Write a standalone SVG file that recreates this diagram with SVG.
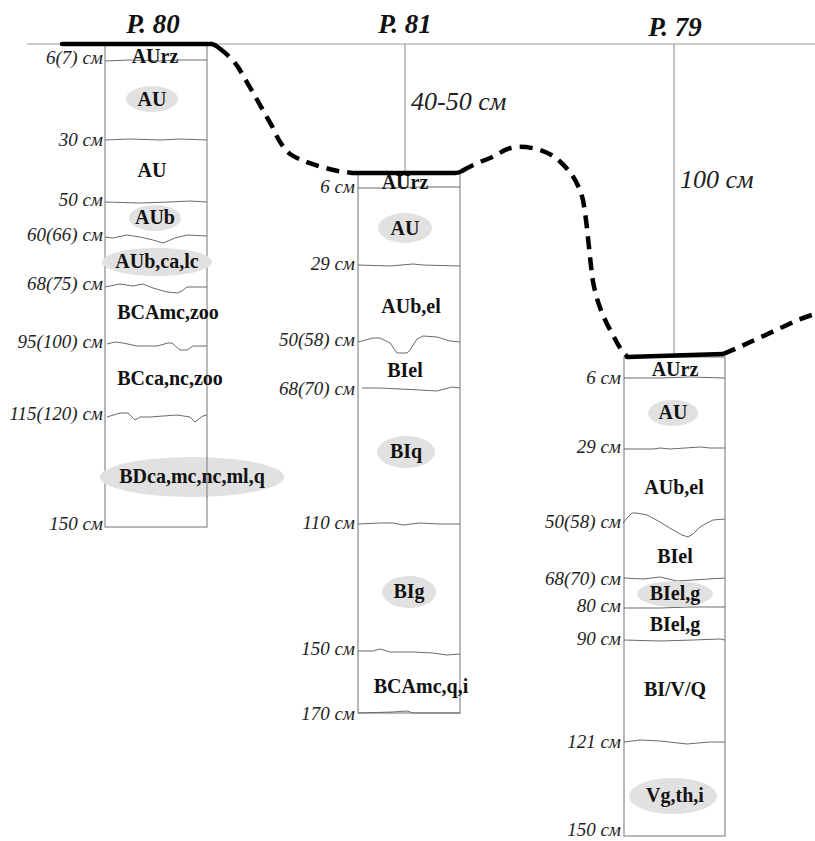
<svg xmlns="http://www.w3.org/2000/svg" width="815" height="841" viewBox="0 0 815 841">
<style>
.bg{fill:#ffffff}
.axis{stroke:#9a9a9a;stroke-width:1.2;fill:none}
.col{stroke:#8a8a8a;stroke-width:1.2;fill:none}
.bd{stroke:#6a6a6a;stroke-width:1;fill:none;stroke-linejoin:round}
.ell{fill:#e1e1e1;stroke:none}
.hz{font-family:"Liberation Serif","Times New Roman",serif;font-weight:bold;font-size:20px;fill:#111;text-anchor:middle}
.dp{font-family:"Liberation Serif","Times New Roman",serif;font-style:italic;font-size:19px;fill:#222;text-anchor:end}
.big{font-family:"Liberation Serif","Times New Roman",serif;font-style:italic;font-size:26px;fill:#222}
.ttl{font-family:"Liberation Serif","Times New Roman",serif;font-style:italic;font-weight:bold;font-size:27px;fill:#111;text-anchor:middle}
.solid{stroke:#000;stroke-width:4.5;fill:none;stroke-linecap:round;stroke-linejoin:round}
.dash{stroke:#000;stroke-width:4.5;fill:none;stroke-dasharray:13 8;stroke-linejoin:round}
</style>
<rect class="bg" x="0" y="0" width="815" height="841"/>

<g id="axes">
<line class="axis" x1="27" y1="44" x2="815" y2="44"/>
<line class="axis" x1="405" y1="44" x2="405" y2="173"/>
<line class="axis" x1="674" y1="44" x2="674" y2="356"/>
</g>

<g id="titles">
<text class="ttl" x="153" y="33">P. 80</text>
<text class="ttl" x="405" y="33">P. 81</text>
<text class="ttl" x="675" y="36">P. 79</text>
<text class="big" x="411" y="110">40-50 см</text>
<text class="big" x="680" y="188">100 см</text>
</g>

<g id="p80">
<rect class="col" x="105" y="44" width="102" height="483"/>
<polyline class="bd" points="105,61 130,60 160,61 180,60 207,60"/>
<polyline class="bd" points="105,140 130,139 160,140 180,139 207,140"/>
<polyline class="bd" points="105,202 140,203 170,202 190,201 207,202"/>
<polyline class="bd" points="105,237 113,238 127,235 140,237 153,240 163,243 175,238 187,235 207,236"/>
<polyline class="bd" points="105,287 120,284 133,286 143,284 153,288 167,292 177,293 182,291 187,287 197,287 207,287"/>
<polyline class="bd" points="107,344 115,342 123,343 137,346 157,346 168,343 172,343 180,350 187,350 193,346 207,346"/>
<polyline class="bd" points="107,417 120,413 128,413 135,420 140,417 150,417 177,415 190,417 195,422 200,418 203,416 207,415"/>
<ellipse class="ell" cx="152" cy="99" rx="26" ry="13"/>
<ellipse class="ell" cx="155" cy="218" rx="26" ry="13"/>
<ellipse class="ell" cx="157" cy="262" rx="55" ry="14"/>
<ellipse class="ell" cx="192" cy="477" rx="92" ry="20"/>
<line class="col" x1="207" y1="457" x2="207" y2="498"/>
<text class="hz" x="155" y="63">AUrz</text>
<text class="hz" x="152" y="106">AU</text>
<text class="hz" x="152" y="177">AU</text>
<text class="hz" x="155" y="224">AUb</text>
<text class="hz" x="157" y="268">AUb,ca,lc</text>
<text class="hz" x="168" y="319">BCAmc,zoo</text>
<text class="hz" x="170" y="385">BCca,nc,zoo</text>
<text class="hz" x="192" y="483">BDca,mc,nc,ml,q</text>
<text class="dp" x="103" y="64">6(7) см</text>
<text class="dp" x="103" y="146">30 см</text>
<text class="dp" x="103" y="206">50 см</text>
<text class="dp" x="103" y="241">60(66) см</text>
<text class="dp" x="103" y="290">68(75) см</text>
<text class="dp" x="103" y="348">95(100) см</text>
<text class="dp" x="103" y="420">115(120) см</text>
<text class="dp" x="103" y="530">150 см</text>
</g>

<g id="p81">
<rect class="col" x="358" y="173" width="102" height="540"/>
<polyline class="bd" points="358,188 390,188 420,187 440,187 460,187"/>
<polyline class="bd" points="358,265 390,266 413,264 423,265 460,266"/>
<polyline class="bd" points="358,342 373,338 380,338 390,343 397,353 407,353 410,350 417,339 423,336 437,337 450,341 460,342"/>
<polyline class="bd" points="362,388 380,388 400,389 420,390 437,391 452,387 460,388"/>
<polyline class="bd" points="358,524 380,523 393,523 403,525 420,523 440,524 460,524"/>
<polyline class="bd" points="358,651 373,651 380,649 390,652 413,652 433,653 447,655 460,654"/>
<polyline class="bd" points="358,713 393,712 407,711 413,713 460,713"/>
<ellipse class="ell" cx="405" cy="228" rx="27" ry="15"/>
<ellipse class="ell" cx="406" cy="452" rx="29" ry="16"/>
<ellipse class="ell" cx="409" cy="592" rx="27" ry="16"/>
<text class="hz" x="405" y="189">AUrz</text>
<text class="hz" x="405" y="235">AU</text>
<text class="hz" x="411" y="313">AUb,el</text>
<text class="hz" x="405" y="377">BIel</text>
<text class="hz" x="406" y="458">BIq</text>
<text class="hz" x="409" y="598">BIg</text>
<text class="hz" x="421" y="693">BCAmc,q,i</text>
<text class="dp" x="355" y="193">6 см</text>
<text class="dp" x="355" y="270">29 см</text>
<text class="dp" x="355" y="346">50(58) см</text>
<text class="dp" x="355" y="395">68(70) см</text>
<text class="dp" x="355" y="529">110 см</text>
<text class="dp" x="355" y="655">150 см</text>
<text class="dp" x="355" y="720">170 см</text>
</g>

<g id="p79">
<rect class="col" x="624" y="357" width="101" height="479"/>
<polyline class="bd" points="624,378 660,378 690,377 725,378"/>
<polyline class="bd" points="624,449 653,449 660,448 670,449 700,447 710,448 725,448"/>
<polyline class="bd" points="623,523 627,518 632,513 637,513 647,515 660,522 673,530 682,535 688,537 693,534 700,527 707,523 713,520 725,519"/>
<polyline class="bd" points="624,578 643,579 660,577 677,581 693,580 725,578"/>
<polyline class="bd" points="624,608 660,608 690,607 725,607"/>
<polyline class="bd" points="624,640 660,641 693,640 720,639 725,640"/>
<polyline class="bd" points="624,742 640,740 660,741 687,744 710,742 725,742"/>
<ellipse class="ell" cx="673" cy="413" rx="25" ry="13"/>
<ellipse class="ell" cx="675" cy="594" rx="38" ry="13"/>
<ellipse class="ell" cx="673" cy="796" rx="44" ry="18"/>
<text class="hz" x="675" y="376">AUrz</text>
<text class="hz" x="673" y="419">AU</text>
<text class="hz" x="674" y="494">AUb,el</text>
<text class="hz" x="675" y="563">BIel</text>
<text class="hz" x="675" y="600">BIel,g</text>
<text class="hz" x="675" y="631">BIel,g</text>
<text class="hz" x="675" y="696">BI/V/Q</text>
<text class="hz" x="675" y="802">Vg,th,i</text>
<text class="dp" x="621" y="384">6 см</text>
<text class="dp" x="621" y="453">29 см</text>
<text class="dp" x="621" y="528">50(58) см</text>
<text class="dp" x="621" y="585">68(70) см</text>
<text class="dp" x="621" y="612">80 см</text>
<text class="dp" x="621" y="645">90 см</text>
<text class="dp" x="621" y="748">121 см</text>
<text class="dp" x="621" y="836">150 см</text>
</g>

<g id="ground">
<path class="solid" d="M62,44 L212,44 Q216,45 219,48"/>
<path class="dash" d="M219,48 C226,53 233,60 238,67 C243,75 249,86 255,96 C260,105 266,116 272,126 C277,137 281,146 290,154 C300,161 320,167 338,171 L352,173"/>
<path class="solid" d="M352,173 L455,173 Q459,173 462,171"/>
<path class="dash" d="M462,171 C470,166 480,162 490,158 C498,155 503,149 515,147 C530,146 545,150 556,158 C568,168 578,180 583,200 C587,222 589,250 592,275 C595,298 603,318 613,335 C618,345 622,352 627,356"/>
<path class="solid" d="M627,357 L723,354"/>
<path class="dash" d="M723,354 C745,345 765,335 785,326 C795,321 805,317 815,314"/>
</g>
</svg>
